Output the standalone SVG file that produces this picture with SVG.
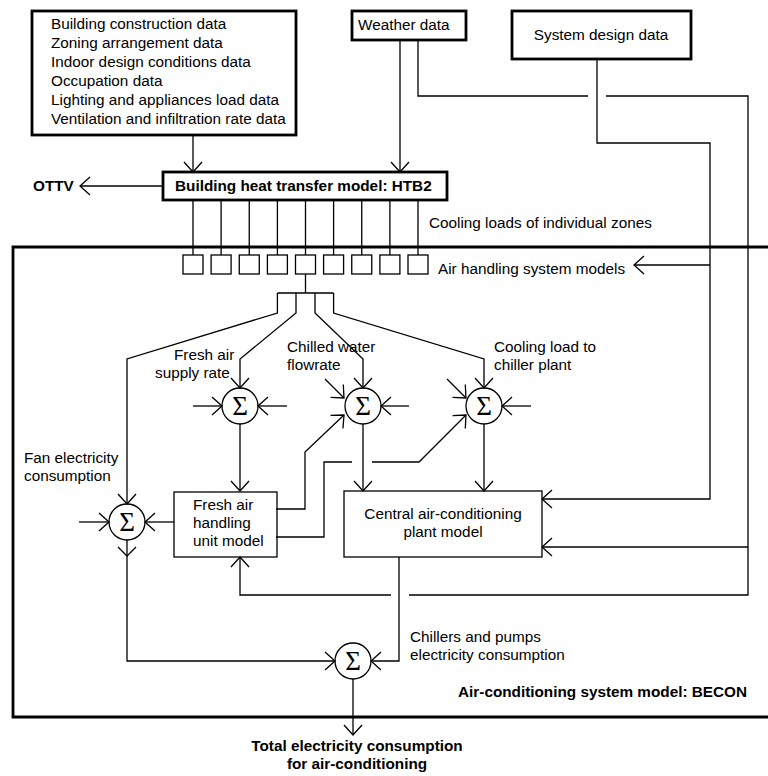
<svg xmlns="http://www.w3.org/2000/svg" width="768" height="776" viewBox="0 0 768 776">
<style>
text{font-family:"Liberation Sans",Arial,sans-serif;font-size:15.3px;fill:#000}
.b{font-weight:bold}
.sig{font-family:"Liberation Serif","Times New Roman",serif;font-size:27px;text-anchor:middle}
.thick{fill:#fff;stroke:#000;stroke-width:2.8}
.thin{fill:#fff;stroke:#000;stroke-width:1.3}
.c{fill:none;stroke:#000;stroke-width:1.3}
.a{marker-end:url(#arr)}
</style>
<defs>
<marker id="arr" markerUnits="userSpaceOnUse" markerWidth="14" markerHeight="22" viewBox="-12 -11 14 22" refX="0" refY="0" orient="auto" overflow="visible">
<path d="M-10,-9 L0,0 L-10,9" fill="none" stroke="#000" stroke-width="1.3"/>
</marker>
</defs>
<rect width="768" height="776" fill="#fff"/>

<g id="becon">
<path d="M772,247 H13 V717 H772" fill="none" stroke="#000" stroke-width="2.8"/>
<text class="b" x="747" y="697" text-anchor="end">Air-conditioning system model: BECON</text>
</g>

<g id="building-data">
<rect class="thick" x="32" y="11" width="264" height="124"/>
<text x="51" y="29">Building construction data</text>
<text x="51" y="48">Zoning arrangement data</text>
<text x="51" y="67">Indoor design conditions data</text>
<text x="51" y="86">Occupation data</text>
<text x="51" y="105">Lighting and appliances load data</text>
<text x="51" y="124">Ventilation and infiltration rate data</text>
</g>

<g id="weather">
<rect class="thick" x="352" y="11" width="114" height="29"/>
<text x="358" y="30">Weather data</text>
</g>

<g id="system-design">
<rect class="thick" x="512" y="11" width="179" height="48"/>
<text x="601" y="40" text-anchor="middle">System design data</text>
</g>

<g id="htb2">
<rect class="thick" x="163" y="172" width="284" height="28"/>
<text class="b" x="175" y="191">Building heat transfer model: HTB2</text>
</g>

<g id="ottv"><text class="b" x="33" y="191">OTTV</text></g>

<g id="air-handling-models">
<rect class="thin" x="183" y="255" width="20" height="19"/>
<rect class="thin" x="211.1" y="255" width="20" height="19"/>
<rect class="thin" x="239.25" y="255" width="20" height="19"/>
<rect class="thin" x="267.4" y="255" width="20" height="19"/>
<rect class="thin" x="295.5" y="255" width="20" height="19"/>
<rect class="thin" x="323.6" y="255" width="20" height="19"/>
<rect class="thin" x="351.75" y="255" width="20" height="19"/>
<rect class="thin" x="379.9" y="255" width="20" height="19"/>
<rect class="thin" x="408" y="255" width="20" height="19"/>
<text x="438" y="274">Air handling system models</text>
</g>

<g id="sum-fresh-air">
<circle class="thin" cx="240" cy="406" r="18"/>
<text class="sig" x="240" y="415">Σ</text>
</g>
<g id="sum-chilled-water">
<circle class="thin" cx="363" cy="406" r="18"/>
<text class="sig" x="363" y="415">Σ</text>
</g>
<g id="sum-cooling-load">
<circle class="thin" cx="484" cy="406" r="18"/>
<text class="sig" x="484" y="415">Σ</text>
</g>
<g id="sum-fan">
<circle class="thin" cx="127" cy="522" r="18"/>
<text class="sig" x="127" y="531">Σ</text>
</g>
<g id="sum-total">
<circle class="thin" cx="353" cy="661" r="18"/>
<text class="sig" x="353" y="670">Σ</text>
</g>

<g id="fresh-air-unit">
<rect class="thin" x="174" y="492" width="103" height="65"/>
<text x="193" y="510">Fresh air</text>
<text x="193" y="528">handling</text>
<text x="193" y="546">unit model</text>
</g>

<g id="central-plant">
<rect class="thin" x="344" y="491" width="198" height="66"/>
<text x="443" y="519" text-anchor="middle">Central air-conditioning</text>
<text x="443" y="537" text-anchor="middle">plant model</text>
</g>

<g id="labels">
<text x="429" y="228">Cooling loads of individual zones</text>
<text x="174" y="360">Fresh air</text>
<text x="155" y="378">supply rate</text>
<text x="287" y="352">Chilled water</text>
<text x="287" y="370">flowrate</text>
<text x="494" y="352">Cooling load to</text>
<text x="494" y="370">chiller plant</text>
<text x="24" y="463">Fan electricity</text>
<text x="24" y="481">consumption</text>
<text x="410" y="642">Chillers and pumps</text>
<text x="410" y="660">electricity consumption</text>
<text class="b" x="357" y="751" text-anchor="middle">Total electricity consumption</text>
<text class="b" x="357" y="769" text-anchor="middle">for air-conditioning</text>
</g>

<g id="connectors">
<path class="c a" d="M193,135 V172"/>
<path class="c a" d="M400,40 V172"/>
<path class="c a" d="M163,186 H80"/>
<path class="c" d="M418,40 V96 H588"/>
<path class="c" d="M606,96 H748 V595 H409"/>
<path class="c a" d="M391,595 H240 V557"/>
<path class="c a" d="M748,547 H542"/>
<path class="c a" d="M597,59 V143 H710 V499 H542"/>
<path class="c a" d="M710,265 H634"/>
<path class="c" d="M193,200 V255 M221.1,200 V255 M249.25,200 V255 M277.4,200 V255 M305.5,200 V255 M333.6,200 V255 M361.75,200 V255 M389.9,200 V255 M418,200 V255"/>
<path class="c" d="M305.5,274 V293 M277.4,293 H333.6"/>
<path class="c a" d="M277.4,293 V313 L127,359 V504"/>
<path class="c a" d="M296,293 V313 L240,359 V388"/>
<path class="c a" d="M315,293 V313 L363,359 V388"/>
<path class="c a" d="M333.6,293 V313 L484,359 V388"/>
<path class="c a" d="M193,406 H222"/>
<path class="c a" d="M287,406 H258"/>
<path class="c a" d="M325,379 L344,398"/>
<path class="c a" d="M276,509 H305 V452 L344,415"/>
<path class="c a" d="M409,406 H381"/>
<path class="c a" d="M447,379 L466,398"/>
<path class="c" d="M276,537 H324 V462 H352"/>
<path class="c a" d="M372,462 H419 L466,415"/>
<path class="c a" d="M531,406 H502"/>
<path class="c a" d="M240,424 V491"/>
<path class="c a" d="M363,424 V491"/>
<path class="c a" d="M484,424 V491"/>
<path class="c a" d="M79,522 H109"/>
<path class="c a" d="M174,522 H145"/>
<path class="c" d="M118,547 L127,556 L136,547"/>
<path class="c a" d="M127,540 V661 H335"/>
<path class="c a" d="M399,557 V661 H371"/>
<path class="c a" d="M353,679 V735"/>
</g>
</svg>
